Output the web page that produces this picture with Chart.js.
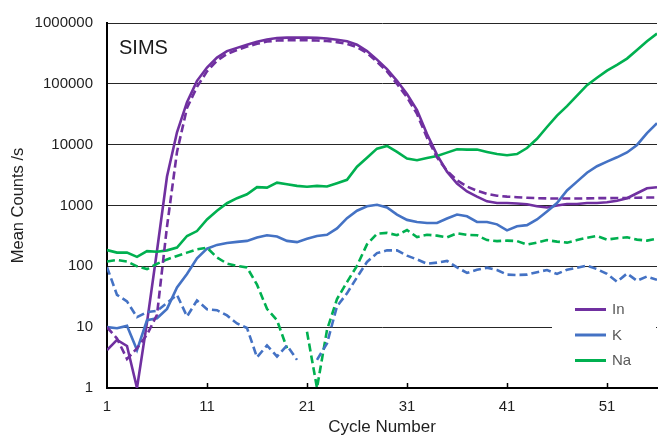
<!DOCTYPE html>
<html>
<head>
<meta charset="utf-8">
<title>SIMS</title>
<script src="https://cdn.jsdelivr.net/npm/chart.js@4/dist/chart.umd.min.js"></script>
<style>
  html, body { margin: 0; padding: 0; background: #fff; }
  #wrap { position: relative; width: 658px; height: 439px; }
</style>
</head>
<body>
<div id="wrap"><canvas id="sims-plot"></canvas></div>
<script>
// cycle numbers on the x axis
const cycles = Array.from({ length: 56 }, (_, i) => i + 1);
const xTickValues = [1, 11, 21, 31, 41, 51];
const yTickValues = [1, 10, 100, 1000, 10000, 100000, 1000000];

// mean counts per second, solid lines
const inSolid = [4.2, 6.2, 4.9, 1, 12, 180, 3000, 16000, 50000, 112000,
  185000, 270000, 345000, 390000, 440000, 490000, 535000, 565000, 575000, 575000,
  575000, 570000, 555000, 530000, 500000, 440000, 345000, 250000, 175000, 112000,
  68000, 37000, 15000, 6800, 3600, 2300, 1700, 1400, 1170, 1100,
  1100, 1080, 1050, 970, 930, 1000, 1060, 1060, 1100, 1100,
  1130, 1200, 1320, 1590, 1920, 2000];
const kSolid = [10, 9.6, 10.5, 4.2, 13, 14, 20, 45, 75, 135,
  195, 225, 242, 252, 262, 298, 325, 310, 262, 250,
  285, 315, 330, 420, 620, 820, 970, 1030, 930, 710,
  580, 537, 515, 515, 610, 710, 665, 537, 537, 490,
  390, 457, 475, 590, 800, 1100, 1770, 2470, 3460, 4420,
  5250, 6200, 7450, 9900, 15500, 22500];
const naSolid = [185, 168, 168, 143, 178, 174, 183, 203, 315, 380,
  590, 820, 1090, 1320, 1530, 2000, 1970, 2370, 2230, 2100,
  2030, 2100, 2050, 2320, 2640, 4350, 6100, 8600, 9550, 7600,
  5900, 5560, 6050, 6530, 7400, 8400, 8300, 8300, 7600, 7000,
  6700, 7000, 8800, 12500, 19500, 30000, 43000, 64000, 95000, 126000,
  165000, 205000, 260000, 360000, 500000, 670000];

// mean counts per second, dashed lines
const inDashed = [10, 6.5, 3, 4.5, 7.5, 16, 450, 7600, 40000, 89000,
  160000, 240000, 310000, 360000, 410000, 455000, 495000, 515000, 520000, 520000,
  520000, 515000, 505000, 485000, 455000, 400000, 320000, 230000, 160000, 100000,
  60000, 32000, 13000, 6200, 3700, 2600, 2050, 1750, 1550, 1450,
  1400, 1370, 1340, 1320, 1310, 1300, 1300, 1300, 1310, 1320,
  1320, 1330, 1330, 1340, 1350, 1350];
const kDashed = [97, 34, 26.5, 14.6, 17.7, 18.5, 25, 34, 15, 27.5,
  19.7, 19, 15.6, 11.5, 9.7, 3.2, 5, 3.3, 5, 2.9,
  null, 2.9, 5.4, 22, 36, 66, 118, 165, 183, 183,
  150, 130, 110, 115, 123, 96, 78, 88, 95, 87,
  73, 72, 73, 80, 87, 75, 88, 95, 103, 90,
  75, 56, 76, 58, 68, 60];
const naDashed = [120, 127, 120, 100, 90, 110, 130, 148, 168, 190,
  203, 140, 111, 102, 96, 50, 20, 13, 4.5, null,
  8.4, 1, 9, 29, 55, 102, 230, 343, 355, 325,
  395, 303, 330, 320, 300, 350, 330, 325, 270, 260,
  265, 260, 228, 245, 270, 255, 245, 270, 295, 315,
  275, 290, 300, 275, 265, 285];

const legendNames = ['In', 'K', 'Na'];
const seriesColors = ['#7030A0', '#4472C4', '#00B050'];

const FONT = "'Liberation Sans', Arial, sans-serif";

// Pair each value with its cycle number
function toPoints(values) {
  return values.map((v, i) => ({ x: cycles[i], y: v }));
}

function makeDataset(label, values, color, dashed) {
  return {
    label: label,
    data: toPoints(values),
    borderColor: color,
    backgroundColor: color,
    borderWidth: 2.6,
    borderDash: dashed ? [8, 4] : [],
    pointRadius: 0,
    tension: 0,
    fill: false,
    spanGaps: false,
    isDashed: dashed
  };
}

// Inner tick marks on the x axis, the "SIMS" label and the boxed legend
const decorPlugin = {
  id: 'decor',
  beforeDatasetsDraw(chart) {
    const ctx = chart.ctx;
    const x = chart.scales.x;
    const bottom = chart.chartArea.bottom;
    ctx.save();
    ctx.strokeStyle = '#000';
    ctx.lineWidth = 1.5;
    xTickValues.slice(1).forEach(v => {
      const px = Math.round(x.getPixelForValue(v)) + 0.5;
      ctx.beginPath();
      ctx.moveTo(px, bottom);
      ctx.lineTo(px, bottom - 5);
      ctx.stroke();
    });
    ctx.restore();
  },
  afterDraw(chart) {
    const ctx = chart.ctx;
    const area = chart.chartArea;
    ctx.save();
    ctx.fillStyle = '#1a1a1a';
    ctx.font = '20px ' + FONT;
    ctx.textBaseline = 'alphabetic';
    ctx.textAlign = 'left';
    ctx.fillText('SIMS', area.left + 12, area.top + 31);

    // legend box sits inside the plot, lower right
    ctx.fillStyle = '#fff';
    ctx.fillRect(552, 292, 104, 88);
    ctx.font = '15px ' + FONT;
    ctx.textBaseline = 'middle';
    legendNames.forEach((name, i) => {
      const y = 309.5 + i * 25.5;
      ctx.strokeStyle = seriesColors[i];
      ctx.lineWidth = 3;
      ctx.beginPath();
      ctx.moveTo(575, y);
      ctx.lineTo(606, y);
      ctx.stroke();
      ctx.fillStyle = '#595959';
      ctx.fillText(name, 612, y + 0.5);
    });
    ctx.restore();
  }
};

function createSimsPlot() {
  const ctx = document.getElementById('sims-plot').getContext('2d');

  new Chart(ctx, {
    type: 'line',
    data: {
      datasets: [
        makeDataset('In dashed', inDashed, seriesColors[0], true),
        makeDataset('K dashed', kDashed, seriesColors[1], true),
        makeDataset('Na dashed', naDashed, seriesColors[2], true),
        makeDataset('Na', naSolid, seriesColors[2], false),
        makeDataset('K', kSolid, seriesColors[1], false),
        makeDataset('In', inSolid, seriesColors[0], false)
      ]
    },
    options: {
      responsive: true,
      maintainAspectRatio: false,
      animation: false,
      layout: { padding: { top: 20, right: 1, bottom: 0, left: 0 } },
      scales: {
        x: {
          type: 'linear',
          min: 1,
          max: 56,
          afterFit: scale => { scale.height = 51; },
          afterBuildTicks: scale => {
            scale.ticks = xTickValues.map(v => ({ value: v }));
          },
          grid: { display: false, drawTicks: false },
          border: { display: true, color: '#000', width: 2 },
          ticks: {
            padding: 10,
            color: '#1f1f1f',
            font: { family: FONT, size: 15 },
            callback: v => String(v)
          },
          title: {
            display: true,
            text: 'Cycle Number',
            color: '#1f1f1f',
            font: { family: FONT, size: 17 },
            padding: { top: 0, bottom: 1 }
          }
        },
        y: {
          type: 'logarithmic',
          min: 1,
          max: 1000000,
          afterFit: scale => { scale.width = 107; },
          afterBuildTicks: scale => {
            scale.ticks = yTickValues.map(v => ({ value: v }));
          },
          grid: { color: '#262626', lineWidth: 1, drawTicks: false },
          border: { display: true, color: '#000', width: 2 },
          ticks: {
            padding: 14,
            color: '#1f1f1f',
            font: { family: FONT, size: 15 },
            callback: v => String(v)
          },
          title: {
            display: true,
            text: 'Mean Counts /s',
            color: '#1f1f1f',
            font: { family: FONT, size: 16.5 },
            padding: { top: 9, bottom: 0 }
          }
        }
      },
      plugins: {
        legend: { display: false },
        tooltip: { enabled: false }
      }
    },
    plugins: [decorPlugin]
  });
}

document.addEventListener('DOMContentLoaded', createSimsPlot);
</script>
</body>
</html>
